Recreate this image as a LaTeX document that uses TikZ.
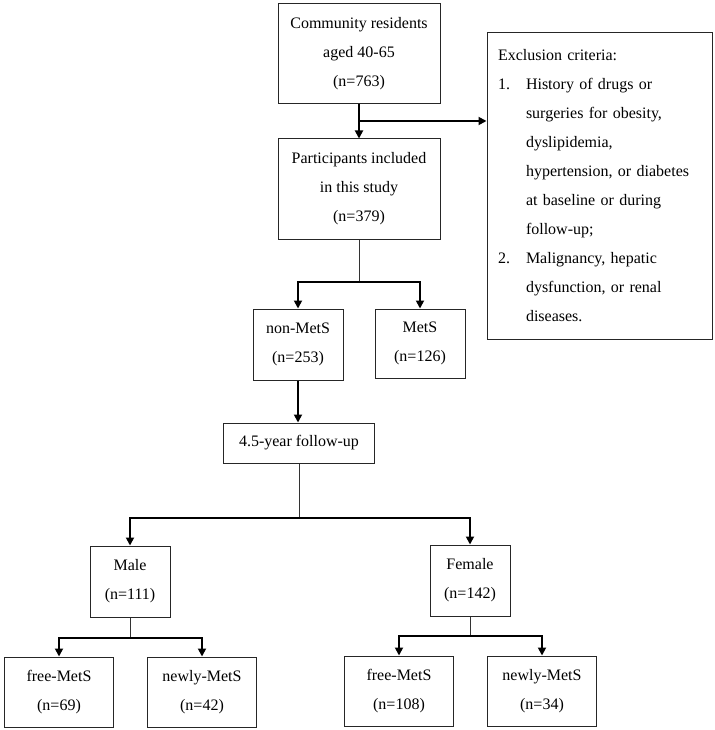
\documentclass[tikz,border=0pt]{standalone}
\usepackage{fontspec}
\setmainfont{Liberation Serif}
\usetikzlibrary{arrows.meta}
\begin{document}
\begin{tikzpicture}[
    x=1pt, y=-1pt,
    box/.style={draw=black!85,line width=1pt,align=center,inner sep=0pt,font=\fontsize{16}{29}\selectfont},
    arr/.style={-{Triangle[length=8pt,width=8pt]},line width=1.8pt},
    stem/.style={line width=0.8pt,black!80}
]
\useasboundingbox (0,0) rectangle (714,730);
\node[box,minimum width=162,minimum height=100] (comm) at (359,54) {Community residents\\aged 40-65\\(n=763)};
\node[box,minimum width=162,minimum height=100] (incl) at (359,189) {Participants included\\in this study\\(n=379)};
\node[box,minimum width=225,minimum height=306,align=left,text width=203,inner xsep=11pt] (excl) at (599.5,186) {Exclusion criteria:\\
\makebox[28pt][l]{1.}History of drugs or\\
\hspace*{28pt}surgeries for obesity,\\
\hspace*{28pt}dyslipidemia,\\
\hspace*{28pt}hypertension, or diabetes\\
\hspace*{28pt}at baseline or during\\
\hspace*{28pt}follow-up;\\
\makebox[28pt][l]{2.}Malignancy, hepatic\\
\hspace*{28pt}dysfunction, or renal\\
\hspace*{28pt}diseases.};
\node[box,minimum width=90,minimum height=71] (nonmets) at (298,344.5) {non-MetS\\(n=253)};
\node[box,minimum width=90,minimum height=69] (mets) at (420,343.5) {MetS\\(n=126)};
\node[box,minimum width=151,minimum height=40] (follow) at (299,443) {4.5-year follow-up};
\node[box,minimum width=80,minimum height=71] (male) at (130,581.5) {Male\\(n=111)};
\node[box,minimum width=80,minimum height=71] (female) at (470,580.5) {Female\\(n=142)};
\node[box,minimum width=109,minimum height=70] (mfree) at (59,692) {free-MetS\\(n=69)};
\node[box,minimum width=109,minimum height=70] (mnew) at (202,692) {newly-MetS\\(n=42)};
\node[box,minimum width=109,minimum height=70] (ffree) at (399,691) {free-MetS\\(n=108)};
\node[box,minimum width=109,minimum height=70] (fnew) at (542,691) {newly-MetS\\(n=34)};
\coordinate (b1) at (359,121);
\coordinate (s1) at (359,282);
\coordinate (s2) at (299,518);
\coordinate (s3) at (130,638);
\coordinate (s4) at (470,636);
\draw[arr] (comm) -- (incl);
\draw[arr] (b1) -- (excl.west |- b1);
\draw[stem] (incl) -- (s1);
\draw[arr] (s1) -| (nonmets.north);
\draw[arr] (s1) -| (mets.north);
\draw[arr] (nonmets) -- (nonmets |- follow.north);
\draw[stem] (follow) -- (s2);
\draw[arr] (s2) -| (male.north);
\draw[arr] (s2) -| (female.north);
\draw[stem] (male) -- (s3);
\draw[arr] (s3) -| (mfree.north);
\draw[arr] (s3) -| (mnew.north);
\draw[stem] (female) -- (s4);
\draw[arr] (s4) -| (ffree.north);
\draw[arr] (s4) -| (fnew.north);
\end{tikzpicture}
\end{document}
